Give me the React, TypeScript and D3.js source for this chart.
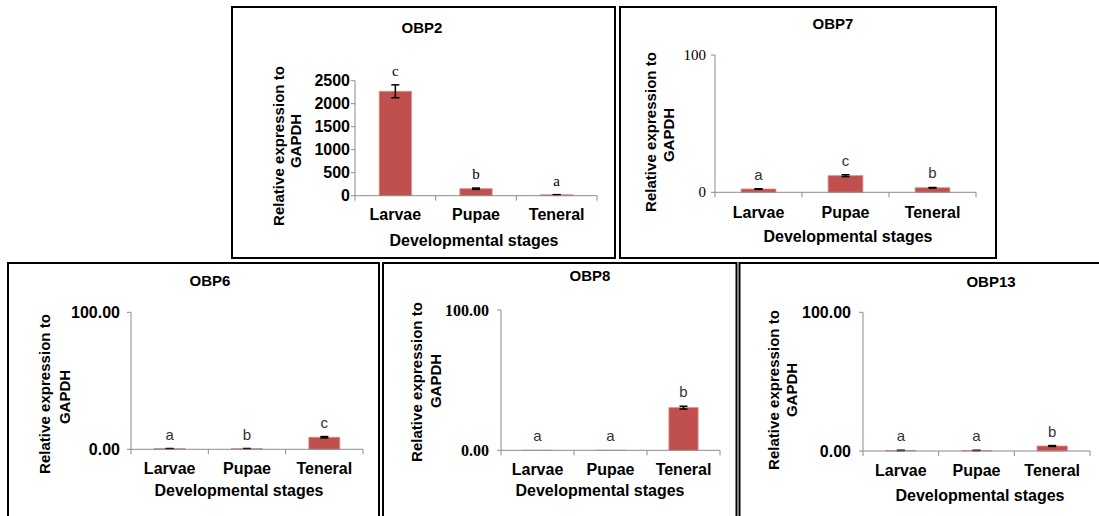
import React from "react";
import * as d3 from "d3";

const categories = ["Larvae", "Pupae", "Teneral"];

const obp2Values = [2270, 152, 20];
const obp2Errors = [140, 14, 3];
const obp2Letters = ["c", "b", "a"];
const obp2Ticks = [0, 500, 1000, 1500, 2000, 2500];

const obp7Values = [2.4, 12.1, 3.3];
const obp7Errors = [0.2, 0.7, 0.2];
const obp7Letters = ["a", "c", "b"];
const obp7Ticks = [0, 100];

const obp6Values = [0.5, 0.5, 8.8];
const obp6Errors = [0.05, 0.05, 0.5];
const obp6Letters = ["a", "b", "c"];
const obp6Ticks = [0, 100];

const obp8Values = [0.05, 0.05, 30.4];
const obp8Errors = [0, 0, 1.0];
const obp8Letters = ["a", "a", "b"];
const obp8Ticks = [0, 100];

const obp13Values = [0.4, 0.4, 3.6];
const obp13Errors = [0.05, 0.05, 0.3];
const obp13Letters = ["a", "a", "b"];
const obp13Ticks = [0, 100];

const BAR = "#C0504D";
const SANS = "Arial, 'Liberation Sans', sans-serif";
const SERIF = "'Times New Roman', 'Liberation Serif', serif";

interface Cfg {
  title: string;
  values: number[];
  errors: number[];
  letters: string[];
  ticks: number[];
  fmt: (v: number) => string;
  box: [number, number, number, number];
  ax0: number;
  ax1: number;
  zeroY: number;
  topY: number;
  yMax: number;
  tickFamily: string;
  tickWeight: string;
  tickSize: number;
  tickGap: number;
  letterFamily: string;
  letterColor: string;
  titleX: number;
  titleY: number;
  yl1X: number;
  yl2X: number;
  yl1Y: number;
  yl2Y: number;
  catY: number;
  xtX: number;
  xtY: number;
}

const panels: Cfg[] = [
  {
    title: "OBP2", values: obp2Values, errors: obp2Errors, letters: obp2Letters, ticks: obp2Ticks,
    fmt: (v) => String(v),
    box: [232, 7, 615, 258], ax0: 355, ax1: 597, zeroY: 195.7, topY: 80.7, yMax: 2500,
    tickFamily: SANS, tickWeight: "bold", tickSize: 16, tickGap: 5,
    letterFamily: SERIF, letterColor: "#000",
    titleX: 422, titleY: 27, yl1X: 278, yl2X: 295, yl1Y: 146, yl2Y: 141,
    catY: 214, xtX: 474, xtY: 240,
  },
  {
    title: "OBP7", values: obp7Values, errors: obp7Errors, letters: obp7Letters, ticks: obp7Ticks,
    fmt: (v) => String(v),
    box: [620, 7, 996, 258], ax0: 715, ax1: 976, zeroY: 192.3, topY: 55, yMax: 100,
    tickFamily: SERIF, tickWeight: "normal", tickSize: 15, tickGap: 9,
    letterFamily: SANS, letterColor: "#333",
    titleX: 833, titleY: 23, yl1X: 650, yl2X: 668, yl1Y: 132, yl2Y: 135,
    catY: 212, xtX: 848, xtY: 236,
  },
  {
    title: "OBP6", values: obp6Values, errors: obp6Errors, letters: obp6Letters, ticks: obp6Ticks,
    fmt: (v) => v.toFixed(2),
    box: [8, 263, 379, 530], ax0: 131, ax1: 363, zeroY: 449.3, topY: 312.3, yMax: 100,
    tickFamily: SANS, tickWeight: "bold", tickSize: 16, tickGap: 11,
    letterFamily: SANS, letterColor: "#333",
    titleX: 210, titleY: 280, yl1X: 44, yl2X: 64, yl1Y: 394, yl2Y: 397,
    catY: 468, xtX: 239, xtY: 490,
  },
  {
    title: "OBP8", values: obp8Values, errors: obp8Errors, letters: obp8Letters, ticks: obp8Ticks,
    fmt: (v) => v.toFixed(2),
    box: [383, 263, 736.5, 530], ax0: 501, ax1: 720, zeroY: 450.3, topY: 310, yMax: 100,
    tickFamily: SERIF, tickWeight: "bold", tickSize: 16, tickGap: 12,
    letterFamily: SANS, letterColor: "#333",
    titleX: 590, titleY: 275, yl1X: 416, yl2X: 435, yl1Y: 382, yl2Y: 381,
    catY: 469, xtX: 600, xtY: 490,
  },
  {
    title: "OBP13", values: obp13Values, errors: obp13Errors, letters: obp13Letters, ticks: obp13Ticks,
    fmt: (v) => v.toFixed(2),
    box: [739.5, 263, 1102, 530], ax0: 863, ax1: 1090, zeroY: 451, topY: 312.3, yMax: 100,
    tickFamily: SANS, tickWeight: "bold", tickSize: 16, tickGap: 12,
    letterFamily: SANS, letterColor: "#333",
    titleX: 991, titleY: 281, yl1X: 773, yl2X: 791, yl1Y: 390, yl2Y: 390,
    catY: 470, xtX: 980, xtY: 495,
  },
];

function Panel({ c }: { c: Cfg }) {
  const x = d3.scaleBand<string>().domain(categories).range([c.ax0, c.ax1]).paddingInner(0.6).paddingOuter(0.3);
  const y = d3.scaleLinear().domain([0, c.yMax]).range([c.zeroY, c.topY]);
  const step = x.step();
  const bounds = d3.range(categories.length + 1).map((i) => c.ax0 + i * step);
  const axisColor = "#8c8c8c";
  const [bx0, by0, bx1, by1] = c.box;
  return (
    <g>
      <rect x={bx0} y={by0} width={bx1 - bx0} height={by1 - by0} fill="#fff" stroke="#000" strokeWidth={2} />
      <text x={c.titleX} y={c.titleY} textAnchor="middle" dominantBaseline="central"
        fontFamily={SANS} fontWeight="bold" fontSize={15} fill="#000">{c.title}</text>
      <line x1={c.ax0} x2={c.ax0} y1={y(0)} y2={y(c.yMax)} stroke={axisColor} strokeWidth={1} />
      {c.ticks.map((t) => (
        <g key={t}>
          <line x1={c.ax0 - 4} x2={c.ax0} y1={y(t)} y2={y(t)} stroke={axisColor} strokeWidth={1} />
          <text x={c.ax0 - c.tickGap} y={y(t)} textAnchor="end" dominantBaseline="central"
            fontFamily={c.tickFamily} fontWeight={c.tickWeight} fontSize={c.tickSize} fill="#000">{c.fmt(t)}</text>
        </g>
      ))}
      {categories.map((cat, i) => {
        const v = c.values[i];
        const e = c.errors[i];
        const cx = (x(cat) as number) + x.bandwidth() / 2;
        return (
          <g key={cat}>
            <rect x={x(cat)} y={y(v)} width={x.bandwidth()} height={Math.max(0, y(0) - y(v))}
              fill={BAR} stroke="#D98C8A" strokeWidth={0.8} />
            {e > 0 && (
              <g stroke="#000" strokeWidth={1.5}>
                <line x1={cx} x2={cx} y1={y(v + e)} y2={y(v - e)} />
                <line x1={cx - 4} x2={cx + 4} y1={y(v + e)} y2={y(v + e)} />
                <line x1={cx - 4} x2={cx + 4} y1={y(v - e)} y2={y(v - e)} />
              </g>
            )}
            <text x={cx} y={y(v + e) - 9} textAnchor="middle" fontFamily={c.letterFamily}
              fontSize={15} fill={c.letterColor}>{c.letters[i]}</text>
            <text x={cx} y={c.catY} textAnchor="middle" dominantBaseline="central"
              fontFamily={SANS} fontWeight="bold" fontSize={16} fill="#000">{cat}</text>
          </g>
        );
      })}
      <line x1={c.ax0} x2={c.ax1} y1={y(0)} y2={y(0)} stroke={axisColor} strokeWidth={1} />
      {bounds.map((b, i) => (
        <line key={i} x1={b} x2={b} y1={y(0)} y2={y(0) + 5} stroke={axisColor} strokeWidth={1} />
      ))}
      <text x={c.xtX} y={c.xtY} textAnchor="middle" dominantBaseline="central"
        fontFamily={SANS} fontWeight="bold" fontSize={16} fill="#000">Developmental stages</text>
      <text transform={`translate(${c.yl1X},${c.yl1Y}) rotate(-90)`} textAnchor="middle" dominantBaseline="central"
        fontFamily={SANS} fontWeight="bold" fontSize={15} fill="#000" textLength={160} lengthAdjust="spacingAndGlyphs">Relative expression to</text>
      <text transform={`translate(${c.yl2X},${c.yl2Y}) rotate(-90)`} textAnchor="middle" dominantBaseline="central"
        fontFamily={SANS} fontWeight="bold" fontSize={15} fill="#000">GAPDH</text>
    </g>
  );
}

export default function App() {
  return (
    <div style={{ position: "absolute", left: 0, top: 0 }}>
      <svg width={1099} height={516} style={{ display: "block", background: "#fff" }}>
        <rect x={0} y={0} width={1099} height={516} fill="#fff" />
        {panels.map((p) => (
          <Panel key={p.title} c={p} />
        ))}
      </svg>
    </div>
  );
}
